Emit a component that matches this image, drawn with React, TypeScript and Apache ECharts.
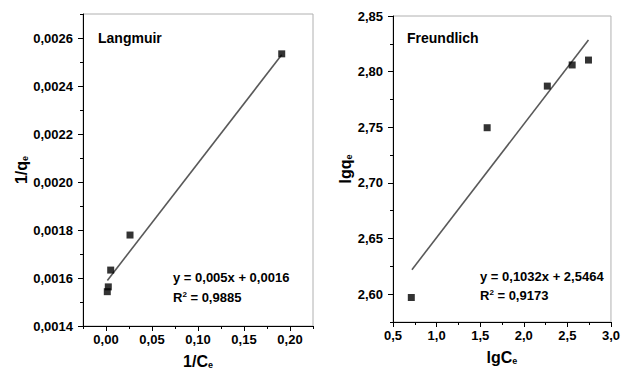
import React, { useEffect, useRef } from "react";
import * as echarts from "echarts";

const langmuirX = [0.0014, 0.0025, 0.0051, 0.0261, 0.191];
const langmuirY = [0.001543, 0.001563, 0.001633, 0.001779, 0.002534];
const langmuirFitX = [0.0015, 0.191];
const langmuirFitY = [0.00159, 0.00253];

const freundlichX = [0.71, 1.58, 2.27, 2.555, 2.742];
const freundlichY = [2.597, 2.7496, 2.787, 2.806, 2.8104];
const freundlichFitX = [0.717, 2.742];
const freundlichFitY = [2.622, 2.8284];

const lxTicks = [0, 0.05, 0.1, 0.15, 0.2];
const lxMinor = [-0.025, 0.025, 0.075, 0.125, 0.175, 0.225];
const lyTicks = [0.0014, 0.0016, 0.0018, 0.002, 0.0022, 0.0024, 0.0026];
const lyMinor = [0.0015, 0.0017, 0.0019, 0.0021, 0.0023, 0.0025, 0.0027];
const fxTicks = [0.5, 1.0, 1.5, 2.0, 2.5, 3.0];
const fxMinor = [0.75, 1.25, 1.75, 2.25, 2.75];
const fyTicks = [2.6, 2.65, 2.7, 2.75, 2.8, 2.85];
const fyMinor = [2.575, 2.625, 2.675, 2.725, 2.775, 2.825];

const FONT = "Liberation Sans";

const fmt = (d: number) => (v: number) => v.toFixed(d).replace(".", ",");

const nameRich = {
  a: { fontSize: 16, fontWeight: "bold", fontFamily: FONT, color: "#000" },
  b: { fontSize: 9, fontWeight: "bold", fontFamily: FONT, color: "#000", verticalAlign: "bottom" },
};

function majorAxis(gridIndex: number, min: number, max: number, ticks: number[], dec: number, name: string, nameGap: number, isY: boolean) {
  return {
    type: "value",
    gridIndex,
    min,
    max,
    position: isY ? "left" : "bottom",
    name,
    nameLocation: "middle",
    nameGap,
    nameTextStyle: { rich: nameRich },
    splitLine: { show: false },
    axisLine: { show: true, onZero: false, lineStyle: { color: "#000", width: 1 } },
    axisTick: { show: true, inside: false, length: 5, customValues: ticks, lineStyle: { color: "#000" } },
    axisLabel: {
      show: true,
      customValues: ticks,
      formatter: fmt(dec),
      fontSize: 13,
      fontWeight: "bold",
      fontFamily: FONT,
      color: "#000",
      margin: isY ? 10 : 7,
    },
  };
}

function minorAxis(gridIndex: number, min: number, max: number, ticks: number[], isY: boolean) {
  return {
    type: "value",
    gridIndex,
    min,
    max,
    position: isY ? "left" : "bottom",
    splitLine: { show: false },
    axisLine: { show: false, onZero: false },
    axisTick: { show: true, inside: false, length: 3, customValues: ticks, lineStyle: { color: "#000" } },
    axisLabel: { show: false },
  };
}

export default function App() {
  const ref = useRef<HTMLDivElement>(null);
  useEffect(() => {
    if (!ref.current) return;
    const chart = echarts.init(ref.current, undefined, { renderer: "svg" });
    const lPts = langmuirX.map((x, i) => [x, langmuirY[i]]);
    const lFit = langmuirFitX.map((x, i) => [x, langmuirFitY[i]]);
    const fPts = freundlichX.map((x, i) => [x, freundlichY[i]]);
    const fFit = freundlichFitX.map((x, i) => [x, freundlichFitY[i]]);
    const textStyle = { fontSize: 13, fontWeight: "bold", fontFamily: FONT, fill: "#000" };
    const eqRich = {
      n: { fontSize: 13, fontWeight: "bold", fontFamily: FONT, fill: "#000" },
      s: { fontSize: 8, fontWeight: "bold", fontFamily: FONT, fill: "#000", verticalAlign: "top" },
    };
    chart.setOption({
      animation: false,
      backgroundColor: "#fff",
      grid: [
        { left: 83, top: 14, width: 230, height: 312, show: true, borderColor: "#b0b0b0", borderWidth: 1, backgroundColor: "transparent" },
        { left: 393, top: 16, width: 220, height: 306, show: true, borderColor: "#b0b0b0", borderWidth: 1, backgroundColor: "transparent" },
      ],
      xAxis: [
        majorAxis(0, -0.025, 0.225, lxTicks, 2, "{a|1/C}{b|e}", 27, false),
        minorAxis(0, -0.025, 0.225, lxMinor, false),
        majorAxis(1, 0.5, 3.0, fxTicks, 1, "{a|lgC}{b|e}", 27, false),
        minorAxis(1, 0.5, 3.0, fxMinor, false),
      ],
      yAxis: [
        majorAxis(0, 0.0014, 0.0027, lyTicks, 4, "{a|1/q}{b|e}", 54, true),
        minorAxis(0, 0.0014, 0.0027, lyMinor, true),
        majorAxis(1, 2.575, 2.85, fyTicks, 2, "{a|lgq}{b|e}", 40, true),
        minorAxis(1, 2.575, 2.85, fyMinor, true),
      ],
      series: [
        {
          type: "line",
          xAxisIndex: 0,
          yAxisIndex: 0,
          data: lFit,
          showSymbol: false,
          lineStyle: { color: "#595959", width: 1.6 },
          z: 2,
        },
        {
          type: "scatter",
          xAxisIndex: 0,
          yAxisIndex: 0,
          data: lPts,
          symbol: "rect",
          symbolSize: 7,
          itemStyle: { color: "#000" },
          z: 3,
        },
        {
          type: "line",
          xAxisIndex: 2,
          yAxisIndex: 2,
          data: fFit,
          showSymbol: false,
          lineStyle: { color: "#595959", width: 1.6 },
          z: 2,
        },
        {
          type: "scatter",
          xAxisIndex: 2,
          yAxisIndex: 2,
          data: fPts,
          symbol: "rect",
          symbolSize: 7,
          itemStyle: { color: "#000" },
          z: 3,
        },
      ],
      graphic: [
        { type: "text", x: 98, y: 38, style: { ...textStyle, fontSize: 14, text: "Langmuir", textVerticalAlign: "middle" } },
        { type: "text", x: 407, y: 38, style: { ...textStyle, fontSize: 14, text: "Freundlich", textVerticalAlign: "middle" } },
        { type: "text", x: 173, y: 277, style: { ...textStyle, text: "y = 0,005x + 0,0016", textVerticalAlign: "middle" } },
        { type: "text", x: 173, y: 297, style: { text: "{n|R}{s|2}{n| = 0,9885}", rich: eqRich, textVerticalAlign: "middle" } },
        { type: "text", x: 480, y: 276, style: { ...textStyle, text: "y = 0,1032x + 2,5464", textVerticalAlign: "middle" } },
        { type: "text", x: 480, y: 295, style: { text: "{n|R}{s|2}{n| = 0,9173}", rich: eqRich, textVerticalAlign: "middle" } },
      ],
    });
    return () => chart.dispose();
  }, []);
  return <div ref={ref} style={{ position: "fixed", left: 0, top: 0, width: 623, height: 375, background: "#fff" }} />;
}
